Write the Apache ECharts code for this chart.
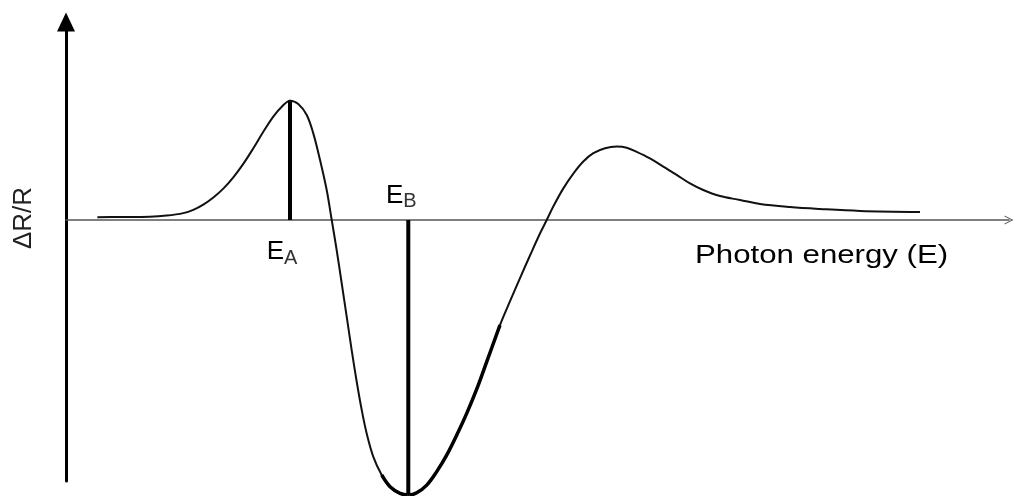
<!DOCTYPE html>
<html>
<head>
<meta charset="utf-8">
<script src="https://cdn.jsdelivr.net/npm/echarts@6/dist/echarts.min.js"></script>
<style>
  html, body { margin: 0; padding: 0; background: #fff; }
  #chart { width: 1017px; height: 496px; }
</style>
</head>
<body>
<div id="chart"></div>
<script>
// Photon energy (arbitrary units)
const energy = [0.33, 0.57, 0.88, 1.06, 1.235, 1.34, 1.445, 1.551, 1.656, 1.761, 1.866, 1.972, 2.077, 2.182,
  2.271, 2.358, 2.445, 2.534, 2.603, 2.674, 2.744, 2.797, 2.849, 2.902, 2.955, 3.007, 3.06, 3.113, 3.165,
  3.235, 3.323, 3.411, 3.516, 3.603, 3.692, 3.797, 3.902, 4.007, 4.113, 4.218, 4.323, 4.428, 4.568, 4.674,
  4.779, 4.884, 4.989, 5.06, 5.129, 5.235, 5.34, 5.445, 5.551, 5.674, 5.797, 5.902, 6.007, 6.147, 6.287,
  6.428, 6.568, 6.708, 6.884, 7.095, 7.305, 7.621, 7.937, 8.358, 8.989];
// Reflectance change dR/R (normalised to the B minimum)
const dRR = [0.010, 0.011, 0.012, 0.016, 0.025, 0.037, 0.056, 0.082, 0.114, 0.155, 0.204, 0.261, 0.321, 0.376,
  0.412, 0.434, 0.422, 0.382, 0.315, 0.218, 0.109, 0.0, -0.109, -0.230, -0.352, -0.473, -0.588, -0.691, -0.776,
  -0.861, -0.927, -0.970, -0.994, -1.0, -0.992, -0.964, -0.915, -0.855, -0.782, -0.703, -0.615, -0.516, -0.382, -0.295,
  -0.211, -0.129, -0.049, 0.0, 0.049, 0.115, 0.169, 0.213, 0.243, 0.261, 0.267, 0.263, 0.248, 0.224, 0.194,
  0.164, 0.133, 0.109, 0.087, 0.073, 0.058, 0.047, 0.040, 0.033, 0.029];
// Emphasised stretch of the curve around the B transition (energy range)
const boldFrom = 3.32;
const boldTo = 4.57;
// Transition labels
const labelA = 'A';
const labelB = 'B';
const xName = 'Photon energy (E)';
const yName = '\u0394R/R';

const curve = energy.map((e, i) => [e, dRR[i]]);
const iA = dRR.indexOf(Math.max(...dRR));
const iB = dRR.indexOf(Math.min(...dRR));
const boldPart = curve.filter(p => p[0] >= boldFrom && p[0] <= boldTo);

const FONT = '"Liberation Sans", Arial, sans-serif';
const chevron = 'path://M5,0 L10,10 L8.8,10 L5,2.4 L1.2,10 L0,10 Z';

const subRich = {
  e: { fontFamily: FONT, fontSize: 26, color: '#000' },
  s: { fontFamily: FONT, fontSize: 20, color: '#333', padding: [12, 0, 0, 0] }
};

const chart = echarts.init(document.getElementById('chart'), null, { renderer: 'canvas' });
chart.setOption({
  animation: false,
  backgroundColor: '#fff',
  grid: { left: 66, right: 8, top: 22, bottom: 15 },
  xAxis: {
    type: 'value', min: 0, max: 9.926,
    axisLine: { onZero: true, lineStyle: { color: '#555', width: 1.5 }, symbol: ['none', chevron], symbolSize: [9, 12] },
    axisTick: { show: false }, axisLabel: { show: false }, splitLine: { show: false }
  },
  yAxis: {
    type: 'value', min: -0.949, max: 0.72,
    axisLine: { onZero: false, lineStyle: { color: '#000', width: 3 }, symbol: ['none', 'triangle'], symbolSize: [18, 19] },
    axisTick: { show: false }, axisLabel: { show: false }, splitLine: { show: false }
  },
  series: [
    {
      type: 'line', data: curve, smooth: 0.35, showSymbol: false, clip: false,
      lineStyle: { color: '#111', width: 2 }, z: 3
    },
    {
      type: 'line', data: boldPart, smooth: 0.35, showSymbol: false, clip: false,
      lineStyle: { color: '#000', width: 3.5 }, z: 4
    },
    {
      type: 'line', showSymbol: true, symbolSize: 0.1, clip: false,
      data: [
        { value: [energy[iA], 0], label: { show: true, position: 'bottom', offset: [-8, 10], formatter: '{e|E}{s|' + labelA + '}' } },
        { value: [energy[iA], dRR[iA]] }
      ],
      lineStyle: { color: '#000', width: 4 },
      label: { show: false, rich: subRich }, z: 5
    },
    {
      type: 'line', showSymbol: true, symbolSize: 0.1, clip: false,
      data: [
        { value: [energy[iB], 0], label: { show: true, position: 'top', offset: [-7, -2], formatter: '{e|E}{s|' + labelB + '}' } },
        { value: [energy[iB], dRR[iB]] }
      ],
      lineStyle: { color: '#000', width: 4 },
      label: { show: false, rich: subRich }, z: 5
    }
  ],
  graphic: [
    {
      type: 'text', left: 695, top: 243, scaleX: 1.2,
      style: { text: xName, font: '26px ' + FONT, fill: '#000' }
    },
    {
      type: 'text', x: 24, y: 218, rotation: Math.PI / 2,
      style: { text: yName, font: '26px ' + FONT, fill: '#222', align: 'center', verticalAlign: 'middle' }
    }
  ]
});
</script>
</body>
</html>
